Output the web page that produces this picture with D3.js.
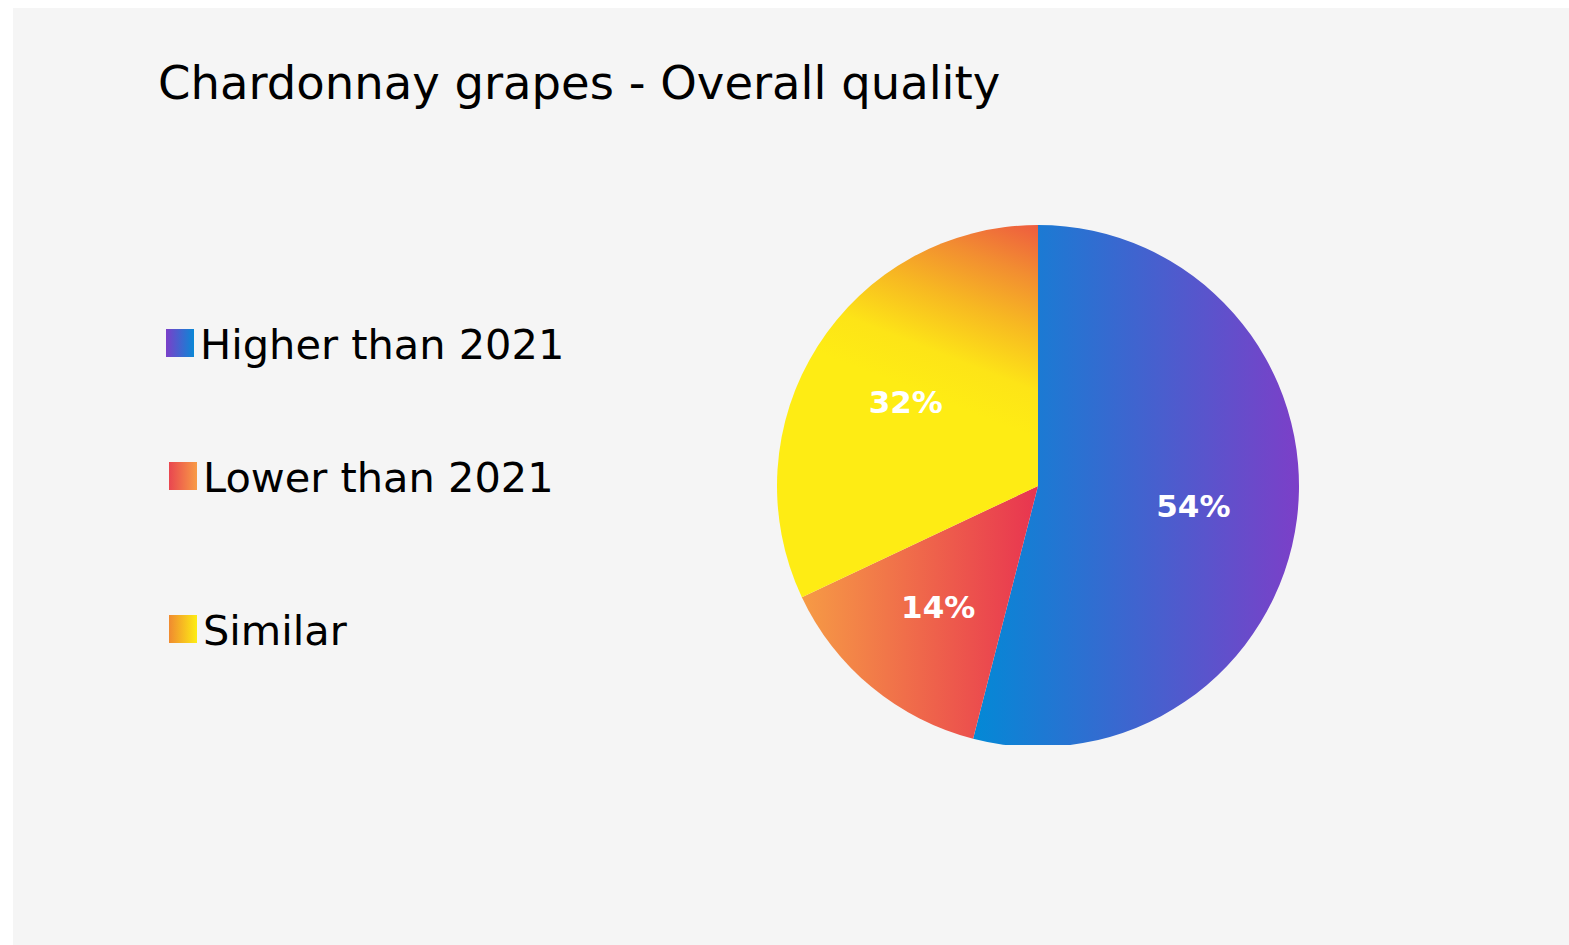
<!DOCTYPE html>
<html>
<head>
<meta charset="utf-8">
<script src="https://cdn.jsdelivr.net/npm/d3@7"></script>
<style>
  html, body { margin: 0; padding: 0; background: #fff; }
  svg { display: block; }
  text { font-family: "DejaVu Sans", sans-serif; }
</style>
</head>
<body>
<svg id="chart" width="1569" height="945"></svg>
<script>
// data
const title = "Chardonnay grapes - Overall quality";
const categories = ["Higher than 2021", "Lower than 2021", "Similar"];
const values = [54, 14, 32];

// layout
const W = 1569, H = 945;
const legendRows = [343, 476, 629];
const legendLeft = [166, 169, 169];

const svg = d3.select('#chart');

// panel background
svg.append('rect')
    .attr('x', 13).attr('y', 8)
    .attr('width', W - 13).attr('height', H - 8)
    .style('fill', '#f5f5f5');

// title
svg.append('text')
    .attr('x', 158).attr('y', 99)
    .style('font-size', '46.5px')
    .style('fill', '#000')
    .text(title);

const cx = 1038, cy = 486, r = 261;
const defs = svg.append('defs');

// slice gradients
const g0 = defs.append('linearGradient').attr('id', 'grad0')
    .attr('x1', 0).attr('y1', 0).attr('x2', 1).attr('y2', 0);
g0.append('stop').attr('offset', 0).attr('stop-color', '#0389d6');
g0.append('stop').attr('offset', 1).attr('stop-color', '#7c3fc8');

const g1 = defs.append('linearGradient').attr('id', 'grad1')
    .attr('x1', 0).attr('y1', 0).attr('x2', 1).attr('y2', 0);
g1.append('stop').attr('offset', 0).attr('stop-color', '#f69b45');
g1.append('stop').attr('offset', 1).attr('stop-color', '#e83450');

// yellow slice: diagonal fade from the top of the pie (coords in the translated group)
const g2 = defs.append('linearGradient').attr('id', 'grad2')
    .attr('gradientUnits', 'userSpaceOnUse')
    .attr('x1', 0).attr('y1', -r)
    .attr('x2', -0.28 * r).attr('y2', -r + 0.71 * r);
g2.append('stop').attr('offset', 0).attr('stop-color', '#ee5c3f');
g2.append('stop').attr('offset', 0.25).attr('stop-color', '#f28d31');
g2.append('stop').attr('offset', 0.5).attr('stop-color', '#f7b822');
g2.append('stop').attr('offset', 0.78).attr('stop-color', '#fde417');
g2.append('stop').attr('offset', 1).attr('stop-color', '#feec14');

// legend gradients
const legStops = [['#7b3fc9', '#0a88d6'], ['#e94650', '#f89b45'], ['#f08a30', '#fded14']];
legStops.forEach((s, i) => {
    const lg = defs.append('linearGradient').attr('id', 'leg' + i)
        .attr('x1', 0).attr('y1', 0).attr('x2', 1).attr('y2', 0);
    lg.append('stop').attr('offset', 0).attr('stop-color', s[0]);
    lg.append('stop').attr('offset', 1).attr('stop-color', s[1]);
});

// bottom of the pie is cut off a bit
defs.append('clipPath').attr('id', 'pieClip')
    .append('rect').attr('x', 0).attr('y', 0).attr('width', W).attr('height', 745);

const pie = d3.pie().sort(null).value(d => d);
const arcs = pie(values);
const arc = d3.arc().innerRadius(0).outerRadius(r);
const labelArc = d3.arc().innerRadius(r * 0.6).outerRadius(r * 0.6);

const pieG = svg.append('g').attr('clip-path', 'url(#pieClip)')
    .append('g').attr('transform', `translate(${cx},${cy})`);

pieG.selectAll('path')
    .data(arcs)
    .enter().append('path')
    .attr('d', arc)
    .style('fill', (d, i) => `url(#grad${i})`);

svg.append('g').attr('transform', `translate(${cx},${cy})`)
    .selectAll('text')
    .data(arcs)
    .enter().append('text')
    .attr('x', d => labelArc.centroid(d)[0])
    .attr('y', d => labelArc.centroid(d)[1])
    .attr('dy', '0.36em')
    .attr('text-anchor', 'middle')
    .style('font-size', '31px')
    .style('font-weight', 'bold')
    .style('fill', '#fff')
    .text(d => d.data + '%');

// legend
const leg = svg.append('g').selectAll('g')
    .data(categories)
    .enter().append('g')
    .attr('transform', (d, i) => `translate(${legendLeft[i]},${legendRows[i]})`);
leg.append('rect')
    .attr('x', 0).attr('y', -14)
    .attr('width', 28).attr('height', 28)
    .style('fill', (d, i) => `url(#leg${i})`);
leg.append('text')
    .attr('x', 34).attr('y', 16)
    .style('font-size', '41.5px')
    .style('fill', '#000')
    .text(d => d);
</script>
</body>
</html>
